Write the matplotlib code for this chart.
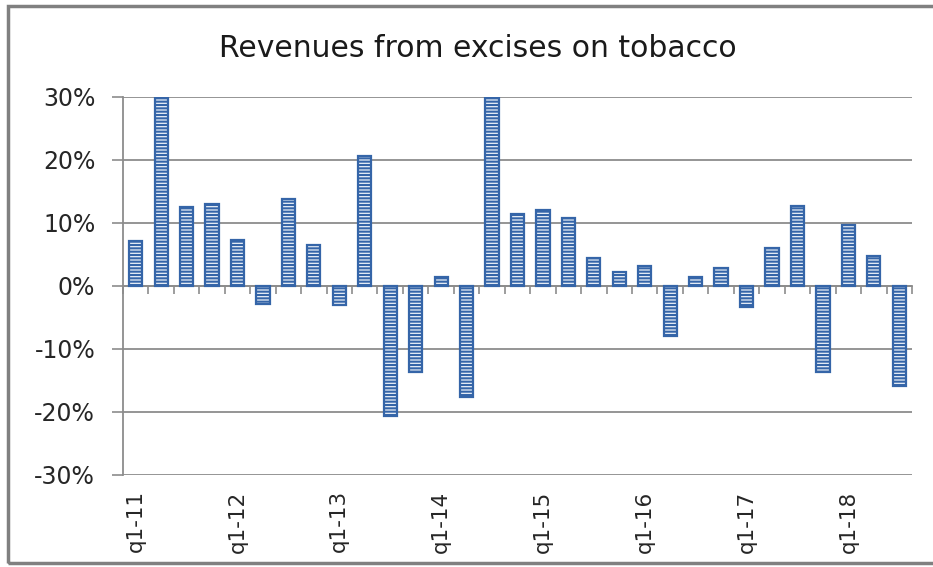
import numpy as np
import matplotlib.pyplot as plt
from matplotlib.patches import Rectangle
from matplotlib.ticker import PercentFormatter

plt.rcParams['font.family'] = ['DejaVu Sans']
plt.rcParams['axes.unicode_minus'] = False
plt.rcParams['hatch.linewidth'] = 1.5

# quarterly growth, q1-11 .. q3-18
quarters = [f'q{q}-{y}' for y in range(11, 19) for q in range(1, 5)][:31]
growth = [7.1, 30.0, 12.6, 13.0, 7.3, -2.9, 13.8, 6.5,
          -3.1, 20.7, -20.6, -13.7, 1.4, -17.6, 30.0, 11.5,
          12.0, 10.8, 4.4, 2.2, 3.1, -8.0, 1.4, 2.8,
          -3.4, 6.1, 12.7, -13.7, 9.7, 4.8, -15.8]
growth = np.array(growth) / 100
yticks = [-0.3, -0.2, -0.1, 0.0, 0.1, 0.2, 0.3]

fig = plt.figure(figsize=(9.33, 5.67), dpi=100)
ax = fig.add_axes([0.1318, 0.1623, 0.8457, 0.6667])

x = np.arange(len(growth))
ax.bar(x, growth, width=0.52, facecolor='#eaf0f8', edgecolor='#3565a8',
       linewidth=1.6, hatch='-----', zorder=3)

ax.set_xlim(-0.5, len(growth) - 0.5)
ax.set_ylim(-0.3, 0.3)
ax.set_yticks(yticks)
ax.yaxis.set_major_formatter(PercentFormatter(1.0, decimals=0))
ax.grid(axis='y', color='#8c8c8c', linewidth=1.3, zorder=0)
ax.tick_params(axis='y', length=8, width=1.2, color='#8c8c8c',
               labelsize=17, labelcolor='#262626', pad=12)

for s in ['top', 'right']:
    ax.spines[s].set_visible(False)
ax.spines['left'].set_color('#8c8c8c')
ax.spines['left'].set_linewidth(1.3)
ax.spines['bottom'].set_visible(False)

# labels only on q1
ax.set_xticks(x[::4], [quarters[i] for i in x[::4]])
ax.tick_params(axis='x', length=0, labelsize=15.5, labelrotation=90,
               labelcolor='#262626', pad=11)

# category axis with tick marks at zero
zero = ax.secondary_xaxis(0.5)
zero.set_alignment('bottom')
zero.set_xticks(np.arange(len(growth) + 1) - 0.5, [])
zero.spines['bottom'].set_color('#8c8c8c')
zero.spines['bottom'].set_linewidth(1.3)
zero.tick_params(length=6, width=1.2, color='#8c8c8c', direction='out')

fig.text(0.512, 0.915, 'Revenues from excises on tobacco', ha='center',
         va='center', fontsize=21.5, color='#1a1a1a')

fig.patches.append(Rectangle((8 / 933, 4 / 567), 1.0, 557 / 567,
                             transform=fig.transFigure, fill=False,
                             edgecolor='#808080', linewidth=2.5))

fig.savefig('out.png', dpi=100)
